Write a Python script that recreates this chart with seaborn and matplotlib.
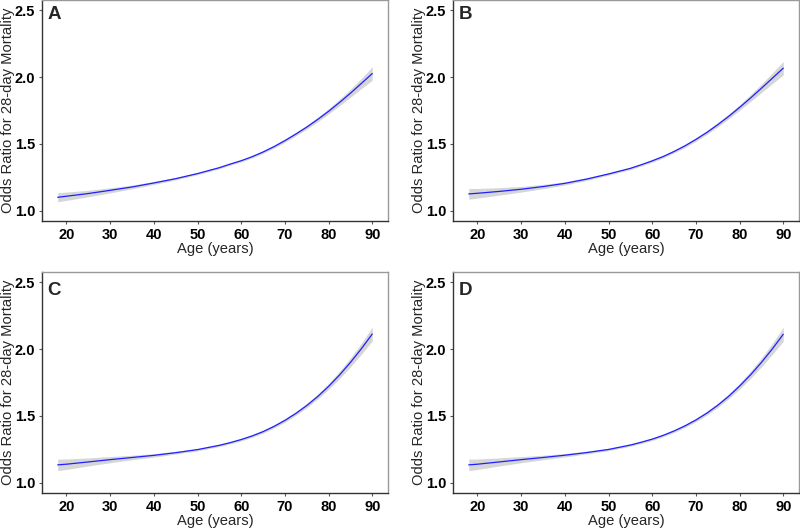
import numpy as np
import pandas as pd
import matplotlib
matplotlib.use("Agg")
import matplotlib.pyplot as plt
import seaborn as sns

sns.set_theme(style="white")
plt.rcParams['font.family'] = ['Liberation Sans', 'DejaVu Sans']

age = [18, 20, 25, 30, 35, 40, 45, 50, 55, 57.5, 60, 62.5, 65, 67.5,
       70, 72.5, 75, 77.5, 80, 82.5, 85, 87.5, 90]

# odds ratio (fit) per panel
or_a = [1.102, 1.110, 1.130, 1.154, 1.179, 1.209, 1.241, 1.279, 1.323, 1.350, 1.375, 1.405,
        1.440, 1.480, 1.525, 1.574, 1.626, 1.683, 1.744, 1.810, 1.879, 1.952, 2.026]
or_b = [1.127, 1.132, 1.146, 1.162, 1.182, 1.206, 1.238, 1.276, 1.318, 1.345, 1.374, 1.406,
        1.444, 1.486, 1.534, 1.586, 1.644, 1.706, 1.773, 1.843, 1.916, 1.991, 2.066]
or_c = [1.135, 1.140, 1.157, 1.174, 1.190, 1.206, 1.226, 1.249, 1.281, 1.301, 1.324, 1.351,
        1.383, 1.422, 1.467, 1.519, 1.578, 1.645, 1.721, 1.806, 1.900, 2.002, 2.112]
or_d = [1.135, 1.140, 1.157, 1.174, 1.190, 1.207, 1.227, 1.250, 1.283, 1.304, 1.327, 1.355,
        1.388, 1.426, 1.470, 1.521, 1.580, 1.647, 1.723, 1.807, 1.900, 2.001, 2.110]

# half width of the confidence band
half_a = [0.034, 0.031, 0.024, 0.019, 0.014, 0.011, 0.009, 0.008, 0.008, 0.008, 0.009, 0.009,
          0.010, 0.011, 0.012, 0.013, 0.015, 0.017, 0.020, 0.024, 0.030, 0.038, 0.050]
half_b = [0.040, 0.036, 0.028, 0.021, 0.016, 0.012, 0.010, 0.009, 0.009, 0.009, 0.010, 0.010,
          0.011, 0.012, 0.013, 0.014, 0.016, 0.018, 0.021, 0.026, 0.032, 0.040, 0.050]
half_c = [0.043, 0.039, 0.030, 0.023, 0.017, 0.013, 0.010, 0.009, 0.009, 0.009, 0.010, 0.010,
          0.011, 0.012, 0.013, 0.014, 0.016, 0.018, 0.022, 0.027, 0.033, 0.041, 0.052]
half_d = [0.043, 0.039, 0.030, 0.023, 0.017, 0.013, 0.010, 0.009, 0.009, 0.009, 0.010, 0.010,
          0.011, 0.012, 0.013, 0.014, 0.016, 0.018, 0.022, 0.027, 0.033, 0.041, 0.052]

panel_labels = ['A', 'B', 'C', 'D']
x_ticks = [20, 30, 40, 50, 60, 70, 80, 90]
y_ticks = [1.0, 1.5, 2.0, 2.5]

W, H = 800, 528
fig = plt.figure(figsize=(8, 5.28), dpi=100)

# (left, top, right, bottom) in pixels
boxes = [(42, 0, 388, 221), (453, 0, 799, 221),
         (42, 272, 388, 493), (453, 272, 799, 493)]
letter_y = [0.972, 0.972, 0.955, 0.955]

curves = [(or_a, half_a), (or_b, half_b), (or_c, half_c), (or_d, half_d)]

for (l, t, r, b), (fit, half), lab, ly in zip(boxes, curves, panel_labels, letter_y):
    ax = fig.add_axes([l / W, (H - b) / H, (r - l) / W, (b - t) / H])
    df = pd.DataFrame({'age': age, 'or': fit, 'half': half})
    df['lo'] = df['or'] - df['half']
    df['hi'] = df['or'] + df['half']
    ax.fill_between(df['age'], df['lo'], df['hi'], color='#d6d6d6', lw=0)
    sns.lineplot(data=df, x='age', y='or', ax=ax, color='#1f1fff', lw=0.9)

    ax.set_xlim(14.4, 93.6)
    ax.set_ylim(0.925, 2.575)
    ax.set_xticks(x_ticks)
    ax.set_yticks(y_ticks)
    ax.set_yticklabels([f'{v:.1f}' for v in y_ticks])
    ax.tick_params(axis='both', which='both', length=2.5, width=0.8, color='#555555',
                   labelsize=10.5, pad=2.5, bottom=True, left=True)
    for tl in ax.get_xticklabels() + ax.get_yticklabels():
        tl.set_fontweight('bold')
        tl.set_color('black')
    for side in ['left', 'bottom']:
        ax.spines[side].set_color('#333333')
        ax.spines[side].set_linewidth(1.0)
    for side in ['top', 'right']:
        ax.spines[side].set_color('#999999')
        ax.spines[side].set_linewidth(1.0)
    ax.set_xlabel('Age (years)', fontsize=10.6)
    ax.set_ylabel('Odds Ratio for 28-day Mortality', fontsize=10.6)
    ax.xaxis.set_label_coords(0.5, -0.093)
    ax.yaxis.set_label_coords(-0.099, 0.5)
    ax.yaxis.label.set_va('center')
    ax.text(0.016, ly, lab, transform=ax.transAxes, fontsize=13.5,
            fontweight='bold', va='top', ha='left')

fig.savefig('out.png', dpi=100)
